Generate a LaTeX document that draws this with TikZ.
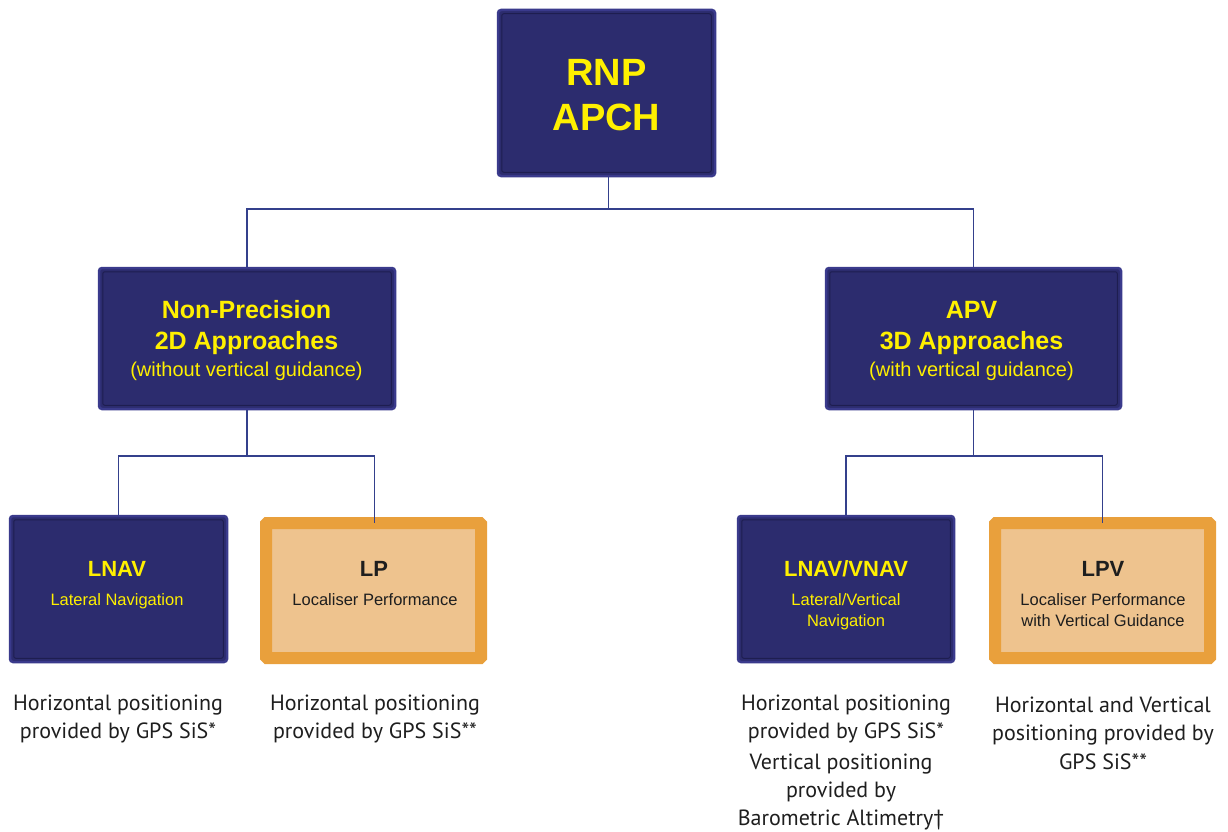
\documentclass[tikz,border=0pt]{standalone}
\usepackage{fontspec}
\setmainfont{Liberation Sans}
\newfontfamily\notefont{PT Sans}
\definecolor{navy}{RGB}{44,44,110}
\definecolor{navyedge}{RGB}{58,58,140}
\definecolor{navyline}{RGB}{30,30,80}
\definecolor{linkblue}{RGB}{52,64,140}
\definecolor{ybright}{RGB}{255,240,0}
\definecolor{orangeedge}{RGB}{233,160,60}
\definecolor{orangefill}{RGB}{238,195,142}
\definecolor{inktext}{RGB}{30,30,30}
\tikzset{
  navybox/.style={fill=navy, draw=navyedge, line width=2.5pt, rounded corners=3pt, inner sep=0pt},
  navyinner/.style={draw=navyline, line width=1pt, rounded corners=2pt},
  orangebox/.style={fill=orangefill, draw=orangeedge, line width=12pt, rounded corners=1pt, inner sep=0pt},
  link/.style={draw=linkblue, line width=1.6pt},
  lbl/.style={anchor=base, inner sep=0pt},
  bigb/.style={lbl, text=ybright, font=\fontsize{38}{45}\selectfont\bfseries},
  midb/.style={lbl, text=ybright, font=\fontsize{25}{31}\selectfont\bfseries},
  subt/.style={lbl, text=ybright, font=\fontsize{20}{24}\selectfont},
  smb/.style={lbl, font=\fontsize{22}{26}\selectfont\bfseries},
  smt/.style={lbl, font=\fontsize{16.5}{20}\selectfont},
  note/.style={align=center, text=inktext, font=\notefont\fontsize{22}{28.5}\selectfont},
}
\begin{document}
\begin{tikzpicture}[x=1pt, y=-1pt]
\useasboundingbox (0,0) rectangle (1228,832);
\fill[white] (0,0) rectangle (1228,832);

% top level
\node[navybox, minimum width=217, minimum height=166] (rnp) at (606.5,93) {};
\draw[navyinner] ([shift={(5,-5)}]rnp.south west) rectangle ([shift={(-5,5)}]rnp.north east);
\node[bigb] (rnp1) at (606.5,85.6) {RNP};
\node[bigb] (rnp2) at (606.5,130.6) {APCH};

% second level
\node[navybox, minimum width=296, minimum height=141] (np) at (247,338.5) {};
\draw[navyinner] ([shift={(5,-5)}]np.south west) rectangle ([shift={(-5,5)}]np.north east);
\node[midb] (np1) at (246.5,318) {Non-Precision};
\node[midb] (np2) at (246.5,349) {2D Approaches};
\node[subt] (np3) at (246.5,376) {(without vertical guidance)};

\node[navybox, minimum width=295, minimum height=141] (apv) at (973.5,338.5) {};
\draw[navyinner] ([shift={(5,-5)}]apv.south west) rectangle ([shift={(-5,5)}]apv.north east);
\node[midb] (apv1) at (971.5,318) {APV};
\node[midb] (apv2) at (971.5,349) {3D Approaches};
\node[subt] (apv3) at (971.5,376) {(with vertical guidance)};

% third level
\node[navybox, minimum width=217, minimum height=146] (lnav) at (118.5,589) {};
\draw[navyinner] ([shift={(5,-5)}]lnav.south west) rectangle ([shift={(-5,5)}]lnav.north east);
\node[smb, text=ybright] (lnav1) at (117,576) {LNAV};
\node[smt, text=ybright] (lnav2) at (117,605) {Lateral Navigation};

\node[orangebox, minimum width=215, minimum height=135] (lp) at (373.5,590.5) {};
\node[smb, text=inktext] (lp1) at (374,576) {LP};
\node[smt, text=inktext] (lp2) at (375,605) {Localiser Performance};

\node[navybox, minimum width=216, minimum height=146] (lv) at (846,589) {};
\draw[navyinner] ([shift={(5,-5)}]lv.south west) rectangle ([shift={(-5,5)}]lv.north east);
\node[smb, text=ybright] (lv1) at (846,576) {LNAV/VNAV};
\node[smt, text=ybright] (lv2) at (846,605) {Lateral/Vertical};
\node[smt, text=ybright] (lv3) at (846,626) {Navigation};

\node[orangebox, minimum width=215, minimum height=135] (lpv) at (1102.5,590.5) {};
\node[smb, text=inktext] (lpv1) at (1103,576) {LPV};
\node[smt, text=inktext] (lpv2) at (1103,605) {Localiser Performance};
\node[smt, text=inktext] (lpv3) at (1103,626) {with Vertical Guidance};

% connectors
\draw[link] ([xshift=2pt]rnp.south) -- ++(0,32) coordinate (j1);
\draw[link] (j1) -| (np.north);
\draw[link] (j1) -| (apv.north);
\draw[link] (np.south) -- ++(0,46) coordinate (j2);
\draw[link] (j2) -| (lnav.north);
\draw[link] (j2) -| ([xshift=1pt,yshift=-6pt]lp.north);
\draw[link] (apv.south) -- ++(0,46) coordinate (j3);
\draw[link] (j3) -| (lv.north);
\draw[link] (j3) -| ([yshift=-6pt]lpv.north);

% notes under the boxes
\node[note] (n1) at (118,719) {Horizontal positioning\\provided by GPS SiS*};
\node[note] (n2) at (375,719) {Horizontal positioning\\provided by GPS SiS**};
\node[note] (n3) at (846,719) {Horizontal positioning\\provided by GPS SiS*};
\node[note, font=\notefont\fontsize{22}{28}\selectfont] (n4) at (841,792) {Vertical positioning\\provided by\\Barometric Altimetry†};
\node[note] (n5) at (1103,733) {Horizontal and Vertical\\positioning provided by\\GPS SiS**};
\end{tikzpicture}
\end{document}
